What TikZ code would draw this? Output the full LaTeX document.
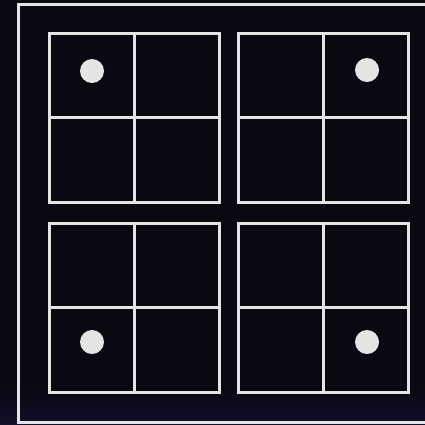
\documentclass[tikz,border=0pt]{standalone}
\usetikzlibrary{calc}
\definecolor{bgdark}{HTML}{0A0810}
\definecolor{bgblue}{HTML}{140E2A}
\definecolor{linegray}{HTML}{E4E4E4}
\begin{document}
\begin{tikzpicture}[x=1pt,y=-1pt,
        gridline/.style={linegray, line width=3pt},
        dot/.style={fill=linegray}]
        \useasboundingbox (0,0) rectangle (425,424);
        \fill[bgdark] (0,0) rectangle (425,424);
        \shade[top color=bgdark, bottom color=bgblue] (0,385) rectangle (425,424);
        % outer frame
        \draw[gridline] (18.5,4) rectangle (430,422.5);
        \foreach \x/\y in {49.5/33.5, 238.5/33.5, 49.5/223.5, 238.5/223.5} {
            \draw[gridline] (\x,\y) rectangle ++(169.5,168.5);
            \draw[gridline] (\x+84.75,\y) -- ++(0,168.5);
            \draw[gridline] (\x,\y+84.25) -- ++(169.5,0);
        }
        \fill[dot] (92,71) circle (12pt);
        \fill[dot] (367,70) circle (12pt);
        \fill[dot] (92,342) circle (12pt);
        \fill[dot] (367,342) circle (12pt);
    \end{tikzpicture}
\end{document}
